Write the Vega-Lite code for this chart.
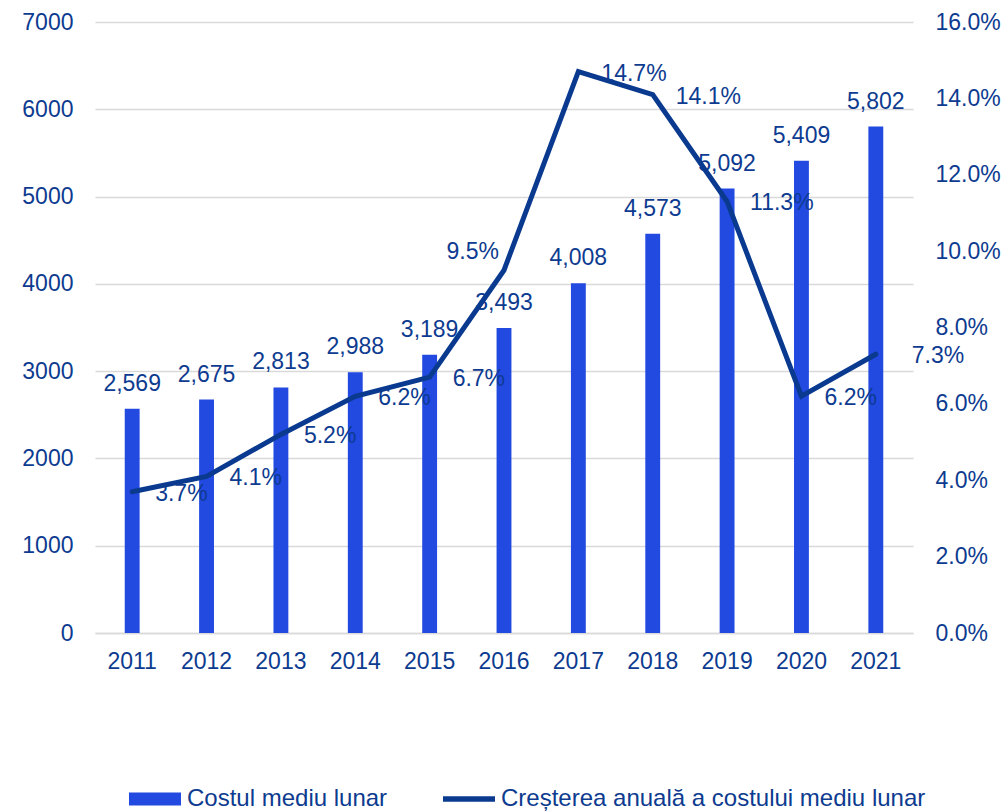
{
  "$schema": "https://vega.github.io/schema/vega-lite/v6.json",
  "width": 818,
  "height": 611,
  "autosize": {"type": "none"},
  "padding": {"left": 95, "top": 22, "right": 94, "bottom": 178},
  "background": "white",
  "config": {
    "view": {"stroke": null},
    "font": "Liberation Sans",
    "text": {"font": "Liberation Sans"}
  },
  "data": {
    "values": [
      {"year": "2011", "cost": 2569, "growth": 0.037},
      {"year": "2012", "cost": 2675, "growth": 0.041},
      {"year": "2013", "cost": 2813, "growth": 0.052},
      {"year": "2014", "cost": 2988, "growth": 0.062},
      {"year": "2015", "cost": 3189, "growth": 0.067},
      {"year": "2016", "cost": 3493, "growth": 0.095},
      {"year": "2017", "cost": 4008, "growth": 0.147},
      {"year": "2018", "cost": 4573, "growth": 0.141},
      {"year": "2019", "cost": 5092, "growth": 0.113},
      {"year": "2020", "cost": 5409, "growth": 0.062},
      {"year": "2021", "cost": 5802, "growth": 0.073}
    ]
  },
  "encoding": {
    "x": {
      "field": "year",
      "type": "ordinal",
      "scale": {"paddingInner": 0.8, "paddingOuter": 0.4},
      "axis": {
        "title": null,
        "labelAngle": 0,
        "labelFontSize": 23,
        "labelColor": "#0d3b90",
        "labelPadding": 17,
        "ticks": false,
        "tickSize": 0,
        "domain": true,
        "domainColor": "#d9d9d9",
        "domainWidth": 1.5
      }
    }
  },
  "layer": [
    {
      "layer": [
        {
          "mark": {"type": "bar"},
          "encoding": {
            "y": {
              "field": "cost",
              "type": "quantitative",
              "scale": {"domain": [0, 7000], "nice": false},
              "axis": {
                "title": null,
                "orient": "left",
                "values": [0, 1000, 2000, 3000, 4000, 5000, 6000, 7000],
                "format": "d",
                "labelFontSize": 23,
                "labelColor": "#0d3b90",
                "labelPadding": 22,
                "ticks": false,
                "tickSize": 0,
                "domain": false,
                "grid": true,
                "gridColor": "#d9d9d9",
                "gridWidth": 1.5
              }
            },
            "color": {
              "datum": "Costul mediu lunar",
              "type": "nominal",
              "scale": {
                "domain": ["Costul mediu lunar", "Creșterea anuală a costului mediu lunar"],
                "range": ["#2249e0", "#0a3a8f"]
              },
              "legend": {
                "title": null,
                "orient": "none",
                "direction": "horizontal",
                "legendX": 34,
                "legendY": 751,
                "padding": 0,
                "labelFontSize": 24,
                "labelColor": "#0d3b90",
                "labelFont": "Liberation Sans",
                "labelOffset": 6,
                "columnPadding": 55,
                "symbolSize": 2704,
                "labelLimit": 600,
                "encode": {
                  "symbols": {
                    "update": {
                      "shape": {"signal": "datum.value == 'Costul mediu lunar' ? 'M-1,-0.25H1V0.25H-1Z' : 'M-1,-0.11H1V0.11H-1Z'"},
                      "size": {"value": 2704},
                      "fill": {"scale": "color", "field": "value"},
                      "stroke": {"value": "transparent"},
                      "strokeWidth": {"value": 0},
                      "opacity": {"value": 1},
                      "fillOpacity": {"value": 1}
                    }
                  }
                }
              }
            }
          }
        },
        {
          "mark": {"type": "text", "baseline": "bottom", "dy": -13, "fontSize": 23, "color": "#0d3b90", "font": "Liberation Sans"},
          "encoding": {
            "y": {"field": "cost", "type": "quantitative"},
            "text": {"field": "cost", "type": "quantitative", "format": ","}
          }
        }
      ]
    },
    {
      "layer": [
        {
          "mark": {"type": "line", "strokeWidth": 5, "strokeCap": "round", "strokeJoin": "miter"},
          "encoding": {
            "y": {
              "field": "growth",
              "type": "quantitative",
              "scale": {"domain": [0, 0.16], "nice": false},
              "axis": {
                "title": null,
                "orient": "right",
                "values": [0, 0.02, 0.04, 0.06, 0.08, 0.1, 0.12, 0.14, 0.16],
                "format": ".1%",
                "labelFontSize": 23,
                "labelColor": "#0d3b90",
                "labelPadding": 22,
                "ticks": false,
                "tickSize": 0,
                "domain": false,
                "grid": false
              }
            },
            "color": {"datum": "Creșterea anuală a costului mediu lunar", "type": "nominal"}
          }
        },
        {
          "transform": [{"filter": "datum.year != '2016' && datum.year != '2021'"}],
          "mark": {"type": "text", "align": "left", "baseline": "middle", "dx": 23, "dy": 2, "fontSize": 23, "color": "#0d3b90", "font": "Liberation Sans"},
          "encoding": {
            "y": {"field": "growth", "type": "quantitative"},
            "text": {"field": "growth", "type": "quantitative", "format": ".1%"}
          }
        },
        {
          "transform": [{"filter": "datum.year == '2021'"}],
          "mark": {"type": "text", "align": "left", "baseline": "middle", "dx": 36, "dy": 2, "fontSize": 23, "color": "#0d3b90", "font": "Liberation Sans"},
          "encoding": {
            "y": {"field": "growth", "type": "quantitative"},
            "text": {"field": "growth", "type": "quantitative", "format": ".1%"}
          }
        },
        {
          "transform": [{"filter": "datum.year == '2016'"}],
          "mark": {"type": "text", "align": "right", "baseline": "middle", "dx": -5, "dy": -18, "fontSize": 23, "color": "#0d3b90", "font": "Liberation Sans"},
          "encoding": {
            "y": {"field": "growth", "type": "quantitative"},
            "text": {"field": "growth", "type": "quantitative", "format": ".1%"}
          }
        }
      ]
    }
  ],
  "resolve": {"scale": {"y": "independent"}}
}
